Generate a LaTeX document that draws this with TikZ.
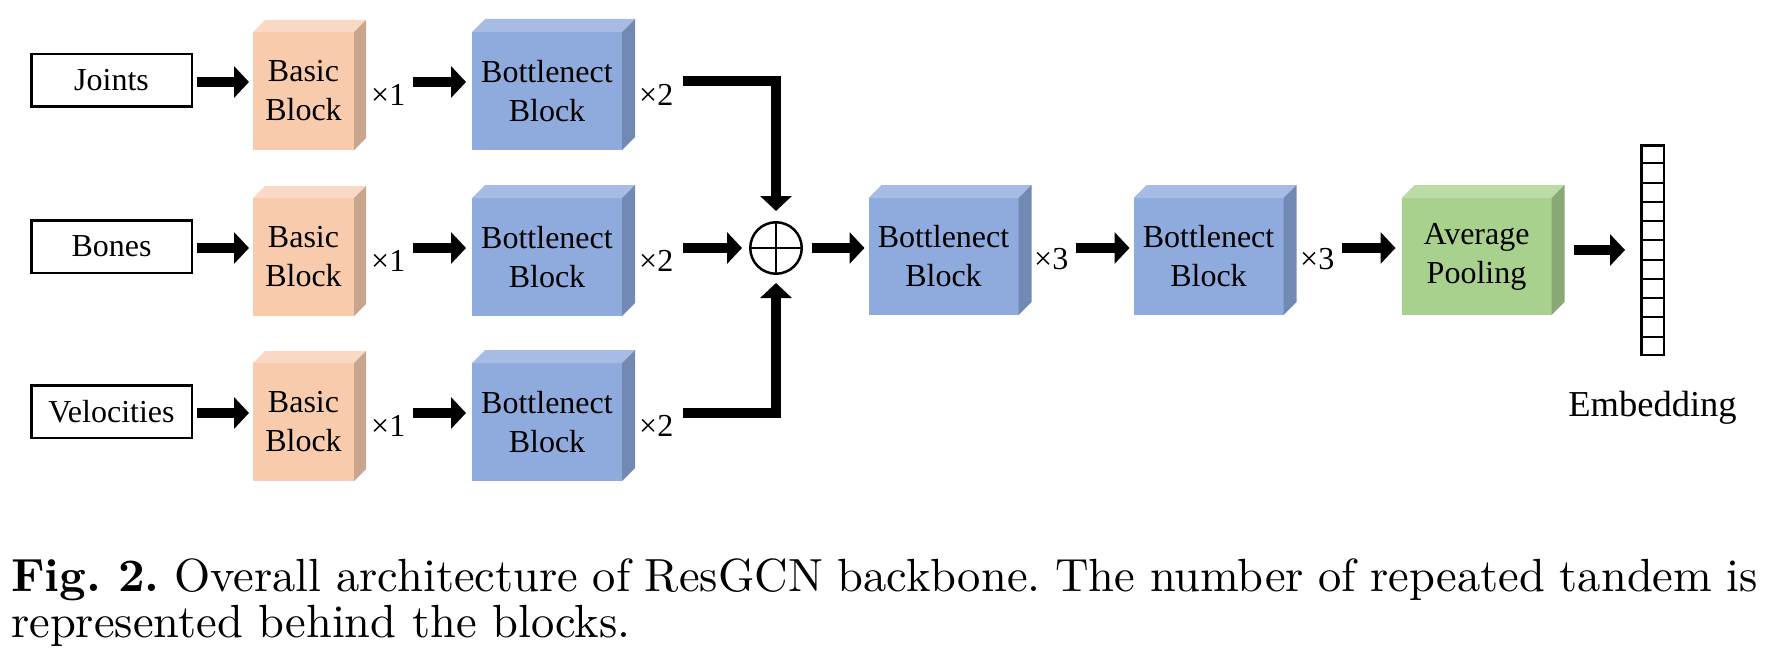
\documentclass[tikz,border=0pt]{standalone}
\usepackage{fontspec}
\newfontfamily\tnr{Liberation Serif}
\newfontfamily\capfont{lmroman10-regular}[Extension=.otf, BoldFont=lmroman10-bold]
\usetikzlibrary{arrows.meta,calc}
\definecolor{peachF}{HTML}{F8CBAD}
\definecolor{peachT}{HTML}{F9D9C5}
\definecolor{peachS}{HTML}{C8A58C}
\definecolor{blueF}{HTML}{8FAADC}
\definecolor{blueT}{HTML}{A6BCE4}
\definecolor{blueS}{HTML}{7289B4}
\definecolor{greenF}{HTML}{A9D18E}
\definecolor{greenT}{HTML}{BCDBA6}
\definecolor{greenS}{HTML}{88A874}
\newcommand\cubefaces[4]{%
  \fill[#3] (#1.north west) -- ++(#2,-#2) -- ($(#1.north east)+(#2,-#2)$) -- (#1.north east) -- cycle;
  \fill[#4] (#1.north east) -- ++(#2,-#2) -- ($(#1.south east)+(#2,-#2)$) -- (#1.south east) -- cycle;
}
\tikzset{
  blk/.style={rectangle, inner sep=0pt, outer sep=0pt, align=center, font=\tnr\fontsize{32}{39}\selectfont},
  basicblk/.style={blk, fill=peachF, minimum width=101pt, minimum height=118pt},
  bnblk/.style={blk, fill=blueF, minimum width=150pt, minimum height=118pt},
  apblk/.style={blk, fill=greenF, minimum width=150pt, minimum height=117pt},
  inbox/.style={draw, line width=2.5pt, minimum width=160.5pt, minimum height=52.5pt, inner sep=0pt, font=\tnr\fontsize{32}{39}\selectfont},
  rep/.style={inner sep=0pt, anchor=west, font=\tnr\fontsize{32}{39}\selectfont},
  arr/.style={line width=10pt, -{Triangle[length=15pt,width=31pt]}},
  plusnode/.style={circle, draw, line width=2.5pt, minimum size=51.5pt, inner sep=0pt},
  embnode/.style={rectangle, draw, line width=2.5pt, minimum width=22.5pt, minimum height=209.5pt, inner sep=0pt},
  captxt/.style={anchor=base west, inner sep=0pt, font=\capfont\fontsize{46.5}{47}\selectfont\frenchspacing},
}
\begin{document}
\begin{tikzpicture}[x=1pt,y=-1pt]
\useasboundingbox (0,0) rectangle (1776,666);
\fill[white] (0,0) rectangle (1776,666);
\coordinate (r1) at (0,82);
\coordinate (r2) at (0,248);
\coordinate (r3) at (0,413);
\coordinate (rm) at (0,250);
% inputs
\node[inbox] (in1) at (111.5,80.5) {Joints};
\node[inbox] (in2) at (111.5,246.5) {Bones};
\node[inbox] (in3) at (111.5,411.5) {Velocities};
% basic blocks
\node[basicblk] (ba1) at (303.5,91) {Basic\\Block};
\node[basicblk] (ba2) at (303.5,257) {Basic\\Block};
\node[basicblk] (ba3) at (303.5,422) {Basic\\Block};
\cubefaces{ba1}{12}{peachT}{peachS}
\cubefaces{ba2}{12}{peachT}{peachS}
\cubefaces{ba3}{12}{peachT}{peachS}
\node[rep] (m1) at (371,95) {×1};
\node[rep] (m2) at (371,261) {×1};
\node[rep] (m3) at (371,426) {×1};
% bottleneck blocks
\node[bnblk] (bn1) at (547,91) {Bottlenect\\Block};
\node[bnblk] (bn2) at (547,257) {Bottlenect\\Block};
\node[bnblk] (bn3) at (547,422) {Bottlenect\\Block};
\cubefaces{bn1}{13}{blueT}{blueS}
\cubefaces{bn2}{13}{blueT}{blueS}
\cubefaces{bn3}{13}{blueT}{blueS}
\node[rep] (n1) at (639,95) {×2};
\node[rep] (n2) at (639,261) {×2};
\node[rep] (n3) at (639,426) {×2};
% merge
\node[plusnode] (plus) at (776,248) {};
\draw[line width=2.5pt] (plus.north) -- (plus.south) (plus.west) -- (plus.east);
% later stages
\node[bnblk, minimum height=117pt] (bn4) at (943.5,256.5) {Bottlenect\\Block};
\cubefaces{bn4}{13}{blueT}{blueS}
\node[rep] (x3a) at (1034,259) {×3};
\node[bnblk, minimum height=117pt] (bn5) at (1208.5,256.5) {Bottlenect\\Block};
\cubefaces{bn5}{13}{blueT}{blueS}
\node[rep] (x3b) at (1300,259) {×3};
\node[apblk] (ap) at (1476.5,256.5) {Average\\Pooling};
\cubefaces{ap}{13}{greenT}{greenS}
% embedding
\node[embnode] (emb) at (1652.5,250) {};
\foreach \i in {1,...,10}
  \draw[line width=2pt] ($(emb.north west)!\i/11!(emb.south west)$) -- ($(emb.north east)!\i/11!(emb.south east)$);
\node[inner sep=0pt, anchor=base, font=\tnr\fontsize{36.5}{40}\selectfont] (emblab) at (1652.5,416) {Embedding};
% arrows
\draw[arr] ($(in1.east|-r1)+(4,0)$) -- ($(ba1.west|-r1)+(-4,0)$);
\draw[arr] ($(in2.east|-r2)+(4,0)$) -- ($(ba2.west|-r2)+(-4,0)$);
\draw[arr] ($(in3.east|-r3)+(4,0)$) -- ($(ba3.west|-r3)+(-4,0)$);
\draw[arr] ($(m1.east|-r1)+(8,0)$) -- ($(bn1.west|-r1)+(-6,0)$);
\draw[arr] ($(m2.east|-r2)+(8,0)$) -- ($(bn2.west|-r2)+(-6,0)$);
\draw[arr] ($(m3.east|-r3)+(8,0)$) -- ($(bn3.west|-r3)+(-6,0)$);
\draw[arr] ($(n1.east|-r1)+(10,-1)$) -| ($(plus.north)+(0,-10)$);
\draw[arr] ($(n2.east|-r2)+(10,0)$) -- ($(plus.west)+(-7,0)$);
\draw[arr] ($(n3.east|-r3)+(10,0)$) -| ($(plus.south)+(0,8)$);
\draw[arr] ($(plus.east)+(9,0)$) -- ($(bn4.west|-r2)+(-4,0)$);
\draw[arr] ($(x3a.east|-r2)+(8,0)$) -- ($(bn5.west|-r2)+(-4,0)$);
\draw[arr] ($(x3b.east|-r2)+(8,0)$) -- ($(ap.west|-r2)+(-6,0)$);
\draw[arr] ($(ap.east|-rm)+(22,0)$) -- ($(emb.west)+(-15,0)$);
% caption
\node[captxt] (cap1) at (11,591) {\makebox[1747pt][s]{\textbf{Fig.~2.} Overall architecture of ResGCN backbone. The number of repeated tandem is}};
\node[captxt] (cap2) at (11,637) {represented behind the blocks.};
\end{tikzpicture}
\end{document}
